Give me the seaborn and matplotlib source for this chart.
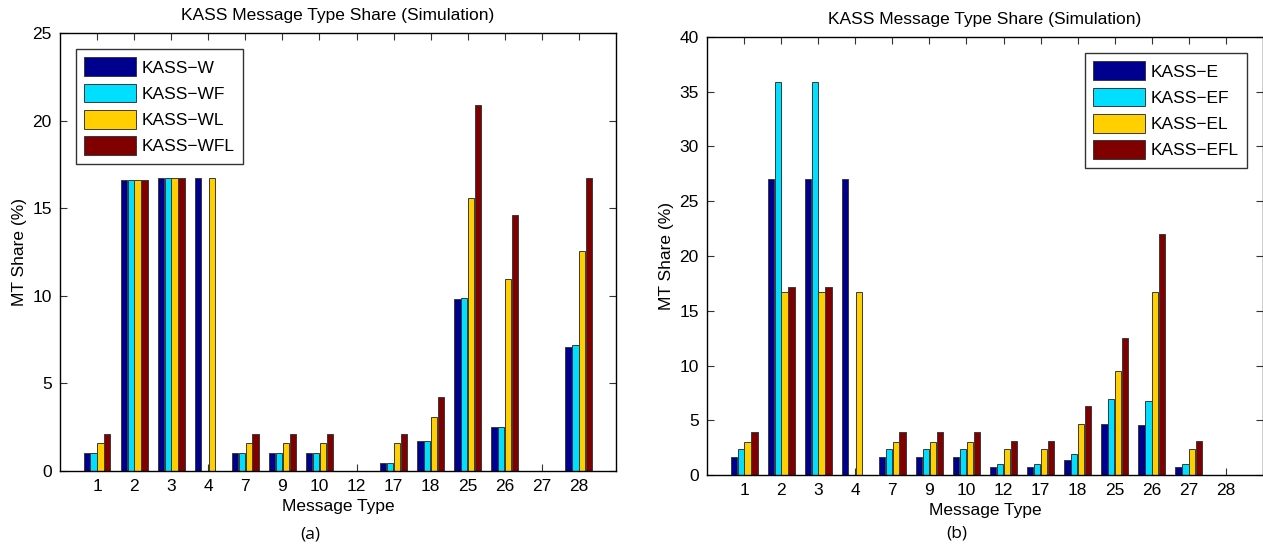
import numpy as np
import pandas as pd
import seaborn as sns
import matplotlib.pyplot as plt
from matplotlib.patches import Patch

msg_types = ["1", "2", "3", "4", "7", "9", "10", "12", "17", "18", "25", "26", "27", "28"]

# panel (a)
names_a = ["KASS\u2212W", "KASS\u2212WF", "KASS\u2212WL", "KASS\u2212WFL"]
kass_w = [1.0, 16.6, 16.7, 16.7, 1.0, 1.0, 1.0, 0, 0.45, 1.7, 9.8, 2.5, 0, 7.1]
kass_wf = [1.0, 16.6, 16.7, 0, 1.0, 1.0, 1.0, 0, 0.45, 1.7, 9.9, 2.5, 0, 7.2]
kass_wl = [1.6, 16.6, 16.7, 16.7, 1.6, 1.6, 1.6, 0, 1.6, 3.1, 15.6, 10.95, 0, 12.55]
kass_wfl = [2.1, 16.6, 16.7, 0, 2.1, 2.1, 2.1, 0, 2.1, 4.2, 20.9, 14.6, 0, 16.7]

# panel (b)
names_b = ["KASS\u2212E", "KASS\u2212EF", "KASS\u2212EL", "KASS\u2212EFL"]
kass_e = [1.6, 27.0, 27.0, 27.0, 1.6, 1.6, 1.6, 0.7, 0.7, 1.4, 4.7, 4.6, 0.7, 0]
kass_ef = [2.4, 35.9, 35.9, 0, 2.4, 2.4, 2.4, 1.0, 1.0, 1.9, 6.9, 6.8, 1.0, 0]
kass_el = [3.0, 16.7, 16.7, 16.7, 3.0, 3.0, 3.0, 2.4, 2.4, 4.7, 9.5, 16.7, 2.4, 0]
kass_efl = [3.9, 17.2, 17.2, 0, 3.9, 3.9, 3.9, 3.1, 3.1, 6.3, 12.5, 22.0, 3.1, 0]

colors = ["#00008F", "#00DFFF", "#FFCF00", "#800000"]


def long_frame(names, series):
    rows = []
    for name, vals in zip(names, series):
        for mt, v in zip(msg_types, vals):
            rows.append({"mt": mt, "share": v, "scheme": name})
    return pd.DataFrame(rows)


sns.set_style("ticks")
plt.rcParams['font.family'] = ['Liberation Sans', 'DejaVu Sans']
plt.rcParams['text.color'] = 'black'
plt.rcParams['axes.labelcolor'] = 'black'
plt.rcParams['xtick.color'] = 'black'
plt.rcParams['ytick.color'] = 'black'

fig = plt.figure(figsize=(12.63, 5.48), dpi=100)
ax_a = fig.add_axes([0.0475, 0.1405, 0.4402, 0.7993])
ax_b = fig.add_axes([0.5598, 0.1332, 0.4402, 0.7993])

panels = [
    (ax_a, names_a, [kass_w, kass_wf, kass_wl, kass_wfl], 25, "upper left"),
    (ax_b, names_b, [kass_e, kass_ef, kass_el, kass_efl], 40, "upper right"),
]

for ax, names, series, ymax, loc in panels:
    df = long_frame(names, series)
    sns.barplot(data=df, x="mt", y="share", hue="scheme", order=msg_types,
                hue_order=names, palette=colors, width=0.74, gap=0.08,
                edgecolor="#3a3a3a", linewidth=0.7, saturation=1, ax=ax,
                legend=False)
    ax.set_xlim(-1, 14)
    ax.set_ylim(0, ymax)
    ax.set_yticks(np.arange(0, ymax + 1, 5))
    ax.set_title("KASS Message Type Share (Simulation)", fontsize=12.5, pad=9)
    ax.set_xlabel("Message Type", fontsize=12.5, labelpad=3)
    ax.set_ylabel("MT Share (%)", fontsize=12.5, labelpad=4)
    ax.tick_params(direction="in", top=True, right=True, length=5, width=0.8,
                   labelsize=12.5, pad=6, color="#333333", labelcolor="black")
    for sp in ax.spines.values():
        sp.set_visible(True)
        sp.set_linewidth(1.0)
        sp.set_color("black")
    handles = [Patch(facecolor=c, edgecolor="#3a3a3a", linewidth=0.7) for c in colors]
    leg = ax.legend(handles, names, loc=loc, fontsize=12.5, frameon=True,
                    fancybox=False, edgecolor="black", handlelength=3.0,
                    handleheight=1.3, labelspacing=0.42, borderpad=0.5,
                    handletextpad=0.3, borderaxespad=0.9)
    leg.get_frame().set_linewidth(1.0)

fig.text(0.2455, 0.024, "(a)", fontsize=12.5, ha="center", va="center", family=["Open Sans", "DejaVu Sans"])
fig.text(0.7578, 0.026, "(b)", fontsize=12.5, ha="center", va="center", family=["Open Sans", "DejaVu Sans"])

fig.savefig("out.png", dpi=100)
